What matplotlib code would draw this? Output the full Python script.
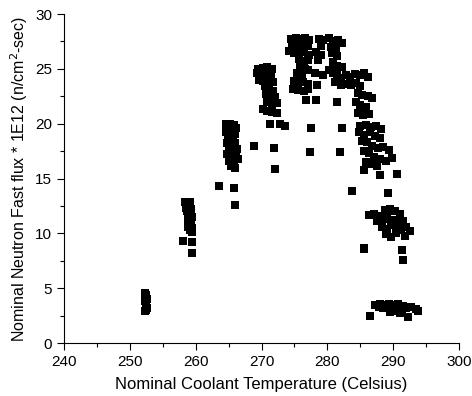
import matplotlib
matplotlib.use("Agg")
import matplotlib.pyplot as plt
from matplotlib.ticker import MultipleLocator

plt.rcParams['font.family'] = ['Liberation Sans', 'DejaVu Sans']

# Cluster data (temperature in Celsius, flux * 1E12)
temp_a = [252.3, 252.5, 252.4, 252.6, 252.3, 252.5, 252.4, 252.6, 252.5, 252.3]
flux_a = [4.6, 4.4, 4.2, 4.0, 3.8, 3.6, 3.4, 3.2, 3.0, 2.9]

temp_b = [258.4, 258.8, 259.2, 258.5, 259.0, 258.6, 259.3, 258.7, 259.1, 258.9, 259.4,
          258.8, 259.2, 259.0, 259.3, 258.9, 259.5, 259.1, 259.4, 258.1, 259.4, 259.4]
flux_b = [12.9, 12.8, 12.9, 12.6, 12.5, 12.3, 12.2, 12.0, 11.8, 11.6, 11.5,
          11.3, 11.1, 11.0, 10.8, 10.6, 10.5, 10.3, 10.1, 9.3, 9.2, 8.2]

temp_c = [264.6, 265.2, 265.8, 264.8, 265.5, 266.1, 264.6, 265.3, 265.9, 264.9, 265.6,
          264.7, 265.3, 266.0, 265.0, 265.7, 266.3, 264.8, 265.5, 266.2, 265.1, 265.8,
          266.4, 265.4, 266.0, 263.6, 265.8, 266.0, 268.9]
flux_c = [20.0, 20.0, 19.9, 19.6, 19.5, 19.6, 19.2, 19.0, 19.1, 18.7, 18.5,
          18.2, 18.0, 18.2, 17.7, 17.5, 17.7, 17.2, 17.0, 17.1, 16.6, 16.5,
          16.8, 16.1, 16.0, 14.3, 14.1, 12.6, 18.0]

temp_d = [269.5, 270.2, 270.9, 271.6, 269.3, 270.0, 270.8, 271.4, 269.6, 270.3, 271.1,
          271.7, 270.5, 271.2, 271.8, 270.7, 271.4, 272.0, 270.9, 271.6, 272.3, 270.2,
          270.9, 271.6, 272.3, 271.3, 272.8, 273.6, 271.9, 272.1]
flux_d = [25.0, 25.1, 25.2, 25.0, 24.6, 24.5, 24.7, 24.4, 24.0, 23.9, 24.0,
          23.8, 23.4, 23.3, 23.0, 22.7, 22.5, 22.4, 22.0, 21.8, 21.9, 21.3,
          21.2, 21.1, 21.0, 20.0, 20.0, 19.8, 17.8, 15.9]

temp_e = [274.5, 275.2, 275.9, 276.6, 277.2, 274.7, 275.5, 276.3, 277.0, 274.2, 275.0,
          275.8, 276.5, 277.2, 275.7, 276.4, 277.1, 275.9, 276.6, 275.4, 276.2, 277.0,
          278.1, 274.9, 275.6, 276.3, 277.0, 274.8, 275.5, 276.4, 277.1, 276.7, 278.3,
          277.5, 277.4]
flux_e = [27.7, 27.8, 27.7, 27.8, 27.6, 27.2, 27.1, 27.3, 27.1, 26.6, 26.4,
          26.6, 26.5, 26.3, 25.9, 25.7, 25.8, 25.2, 25.0, 24.6, 24.4, 24.9,
          24.6, 23.9, 23.7, 23.8, 23.6, 23.2, 23.1, 23.0, 23.2, 22.2, 22.2,
          19.6, 17.4]

temp_f = [278.7, 279.4, 280.2, 280.9, 281.6, 282.2, 279.0, 280.5, 281.3, 278.3, 279.1,
          280.7, 281.4, 278.6, 280.9, 281.5, 282.3, 279.4, 278.4, 280.2,
          280.8, 281.5, 282.1, 282.9, 283.5, 284.2, 284.9, 285.6, 286.2, 281.2, 282.0,
          282.8, 283.6, 284.4, 285.0, 284.6, 285.3, 286.1, 286.8, 284.3, 285.0, 285.8,
          284.7, 285.4, 286.3, 281.5, 282.2, 281.9, 283.8, 285.6]
flux_f = [27.7, 27.6, 27.8, 27.5, 27.6, 27.4, 27.1, 27.0, 26.9, 26.5, 26.3,
          26.4, 26.2, 25.8, 25.6, 25.3, 25.2, 24.4, 23.5, 24.9,
          24.6, 24.5, 24.2, 24.4, 24.3, 24.5, 24.4, 24.6, 24.3, 23.8, 23.5,
          23.6, 23.5, 23.7, 23.4, 22.8, 22.6, 22.5, 22.3, 22.0, 21.7, 21.5,
          21.0, 20.8, 20.9, 22.0, 19.6, 17.4, 13.9, 8.6]

temp_g = [285.0, 285.8, 286.6, 287.4, 288.1, 284.8, 285.6, 286.5, 287.2, 288.0, 285.2,
          286.0, 286.8, 287.7, 288.5, 289.3, 285.5, 286.4, 287.1, 288.0, 288.9, 289.8,
          285.9, 286.8, 287.6, 285.6, 288.0, 290.6, 289.2]
flux_g = [19.8, 19.9, 19.7, 19.8, 19.5, 19.2, 19.0, 19.2, 18.9, 18.7, 18.4,
          18.3, 18.0, 17.8, 17.9, 17.6, 17.5, 17.3, 17.0, 16.8, 16.6, 16.9,
          16.5, 16.3, 16.1, 15.8, 15.3, 15.4, 13.7]

temp_h = [286.3, 287.1, 287.9, 288.7, 289.5, 290.3, 291.0, 287.6, 288.4, 289.1, 289.9,
          290.7, 291.5, 288.3, 289.0, 289.6, 290.4, 291.2, 292.0, 288.9, 289.7, 290.5,
          291.8, 292.6, 285.6, 291.4, 291.5]
flux_h = [11.7, 11.8, 11.6, 12.1, 12.2, 12.0, 11.8, 11.1, 11.3, 11.5, 11.2,
          11.0, 11.1, 10.6, 10.4, 10.8, 10.5, 10.3, 10.6, 9.9, 9.7, 10.0,
          9.8, 10.2, 8.7, 8.5, 7.6]

temp_i = [287.3, 288.0, 288.7, 289.4, 290.1, 290.8, 291.5, 287.8, 288.5, 289.2, 289.9,
          290.6, 291.3, 292.0, 292.7, 293.4, 293.7, 289.5, 290.3, 291.0, 292.3, 286.5]
flux_i = [3.5, 3.6, 3.5, 3.6, 3.5, 3.6, 3.4, 3.3, 3.2, 3.3, 3.1,
          3.2, 3.0, 3.2, 3.3, 3.1, 2.9, 2.8, 2.9, 2.7, 2.4, 2.5]

temps = temp_a + temp_b + temp_c + temp_d + temp_e + temp_f + temp_g + temp_h + temp_i
fluxes = flux_a + flux_b + flux_c + flux_d + flux_e + flux_f + flux_g + flux_h + flux_i

fig = plt.figure(figsize=(4.72, 3.96), dpi=100)
ax = fig.add_axes([0.1356, 0.1338, 0.8369, 0.8308])
ax.scatter(temps, fluxes, marker='s', s=26, c='black', linewidths=0)

ax.set_xlim(240, 300)
ax.set_ylim(0, 30)
ax.xaxis.set_major_locator(MultipleLocator(10))
ax.xaxis.set_minor_locator(MultipleLocator(5))
ax.yaxis.set_major_locator(MultipleLocator(5))
ax.yaxis.set_minor_locator(MultipleLocator(2.5))
ax.spines['top'].set_visible(False)
ax.spines['right'].set_visible(False)
ax.tick_params(which='major', direction='out', length=5, width=0.8, labelsize=11)
ax.tick_params(which='minor', direction='out', length=3, width=0.8)

ax.set_xlabel('Nominal Coolant Temperature (Celsius)', fontsize=12, labelpad=6)
ax.set_ylabel('Nominal Neutron Fast flux * 1E12 (n/cm$^2$-sec)', fontsize=11.5)

fig.savefig('out.png', dpi=100)
